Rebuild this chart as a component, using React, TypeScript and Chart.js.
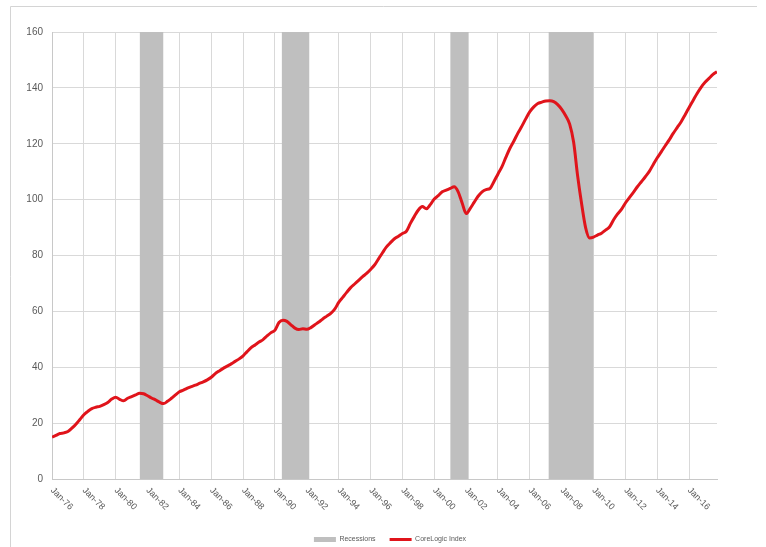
import { useEffect, useRef } from 'react';
import { Chart, registerables } from 'chart.js';

Chart.register(...registerables);

// Tick labels along the time axis (every two years)
const tickLabels = [
  'Jan-76', 'Jan-78', 'Jan-80', 'Jan-82', 'Jan-84', 'Jan-86', 'Jan-88', 'Jan-90', 'Jan-92', 'Jan-94',
  'Jan-96', 'Jan-98', 'Jan-00', 'Jan-02', 'Jan-04', 'Jan-06', 'Jan-08', 'Jan-10', 'Jan-12', 'Jan-14', 'Jan-16',
];

// Recession bands (start / end month labels)
const recessionStarts = ['Jul-81', 'Jun-90', 'Jan-01', 'Mar-07'];
const recessionEnds = ['Jan-83', 'Mar-92', 'Mar-02', 'Jan-10'];

// CoreLogic Index, quarterly readings starting Jan-76
const indexValues = [
  15.0, 15.6, 16.3, 16.5, 17.0, 18.2, 19.6, 21.3, 23.0, 24.2,
  25.2, 25.7, 26.0, 26.6, 27.4, 28.6, 29.3, 28.5, 28.0, 28.9,
  29.5, 30.1, 30.7, 30.5, 29.8, 29.0, 28.3, 27.5, 27.0, 27.8,
  28.9, 30.1, 31.2, 31.8, 32.5, 33.1, 33.6, 34.2, 34.8, 35.5,
  36.4, 37.7, 38.7, 39.6, 40.4, 41.2, 42.1, 43.0, 44.1, 45.6,
  47.0, 48.0, 49.0, 49.9, 51.2, 52.4, 53.3, 56.0, 56.8, 56.4,
  55.2, 54.0, 53.5, 53.8, 53.6, 54.2, 55.2, 56.2, 57.3, 58.3,
  59.3, 60.8, 63.2, 65.0, 66.8, 68.5, 69.8, 71.1, 72.4, 73.6,
  75.0, 76.6, 78.8, 81.0, 83.1, 84.6, 86.0, 86.9, 87.9, 88.7,
  91.5, 94.0, 96.3, 97.5, 96.7, 98.2, 100.2, 101.4, 102.8, 103.4,
  104.0, 104.6, 102.8, 98.8, 95.0, 96.8, 99.0, 101.2, 102.8, 103.6,
  104.0, 106.5, 109.2, 111.8, 115.2, 118.4, 121.0, 123.8, 126.3, 129.0,
  131.5, 133.2, 134.4, 134.9, 135.3, 135.4, 135.1, 134.0, 132.3, 130.0,
  127.0, 120.5, 108.5, 98.5, 90.0, 86.3, 86.6, 87.3, 88.0, 89.1,
  90.2, 92.7, 94.8, 96.5, 98.8, 100.7, 102.6, 104.6, 106.4, 108.2,
  110.1, 112.6, 115.0, 117.1, 119.3, 121.4, 123.7, 125.8, 127.9, 130.4,
  133.0, 135.5, 138.0, 140.2, 142.0, 143.4, 144.8, 145.8,
];

const Y_MIN = 0;
const Y_MAX = 160;
const Y_STEP = 20;

const MONTHS = ['Jan', 'Feb', 'Mar', 'Apr', 'May', 'Jun', 'Jul', 'Aug', 'Sep', 'Oct', 'Nov', 'Dec'];
const BASE_YEAR = 1976;

// convert "Mmm-yy" into months since Jan-76
function monthIndex(label: string): number {
  const [mon, yy] = label.split('-');
  const y2 = parseInt(yy, 10);
  const year = y2 >= 50 ? 1900 + y2 : 2000 + y2;
  return (year - BASE_YEAR) * 12 + MONTHS.indexOf(mon);
}

const tickMonths = tickLabels.map(monthIndex);
const indexMonths = indexValues.map((_, i) => i * 3);

export default function App() {
  const canvasRef = useRef<HTMLCanvasElement | null>(null);

  useEffect(() => {
    document.body.style.margin = '0';
    const canvas = canvasRef.current;
    if (!canvas) return;

    const recessionData: { x: number; y: number | null }[] = [];
    recessionStarts.forEach((s, i) => {
      const a = monthIndex(s);
      const b = monthIndex(recessionEnds[i]);
      recessionData.push({ x: a, y: Y_MAX });
      recessionData.push({ x: b, y: Y_MAX });
      recessionData.push({ x: b + 0.01, y: null });
    });

    const lineData = indexValues.map((v, i) => ({ x: indexMonths[i], y: v }));

    const framePlugin = {
      id: 'frame',
      beforeDraw(chart: any) {
        const ctx = chart.ctx;
        ctx.save();
        ctx.strokeStyle = '#d4d4d4';
        ctx.lineWidth = 1;
        ctx.beginPath();
        ctx.moveTo(10.5, chart.height);
        ctx.lineTo(10.5, 6.5);
        ctx.lineTo(757, 6.5);
        ctx.stroke();
        ctx.restore();
      },
    };

    const xLabelPlugin = {
      id: 'xlabels',
      afterDraw(chart: any) {
        const xs = chart.scales.x;
        const ctx = chart.ctx;
        ctx.save();
        ctx.font = '9px "Liberation Sans", Arial, sans-serif';
        ctx.fillStyle = '#595959';
        ctx.textAlign = 'left';
        ctx.textBaseline = 'middle';
        tickMonths.forEach((m, i) => {
          const px = xs.getPixelForValue(m);
          ctx.save();
          ctx.translate(px, xs.top + 10);
          ctx.rotate(Math.PI / 4);
          ctx.fillText(tickLabels[i], 0, 0);
          ctx.restore();
        });
        ctx.restore();
      },
    };

    const chart = new Chart(canvas, {
      type: 'line',
      data: {
        datasets: [
          {
            label: 'Recessions',
            data: recessionData,
            backgroundColor: '#bfbfbf',
            borderColor: '#bfbfbf',
            borderWidth: 0,
            fill: 'origin',
            pointRadius: 0,
            pointStyle: 'rect',
            spanGaps: false,
            order: 1,
          },
          {
            label: 'CoreLogic Index',
            data: lineData,
            borderColor: '#e0141b',
            backgroundColor: '#e0141b',
            borderWidth: 3,
            pointRadius: 0,
            pointStyle: 'line',
            fill: false,
            cubicInterpolationMode: 'monotone',
            order: 0,
          },
        ],
      },
      options: {
        responsive: false,
        animation: false,
        events: [],
        layout: { padding: { left: 14, right: 0, top: 32, bottom: -6 } },
        plugins: {
          tooltip: { enabled: false },
          title: { display: false },
          legend: {
            position: 'bottom',
            labels: {
              usePointStyle: true,
              pointStyleWidth: 22,
              boxHeight: 5,
              padding: 14,
              color: '#595959',
              font: { size: 7, family: '"Liberation Sans", Arial, sans-serif' },
              sort: (a: any, b: any) => a.datasetIndex - b.datasetIndex,
            },
          },
        },
        scales: {
          x: {
            type: 'linear',
            min: 0,
            max: indexMonths[indexMonths.length - 1],
            afterBuildTicks(scale: any) {
              scale.ticks = tickMonths.map((v) => ({ value: v }));
            },
            afterFit(scale: any) {
              scale.height = 43;
            },
            ticks: { display: false },
            grid: { color: '#d9d9d9', lineWidth: 1, drawTicks: false },
            border: { color: '#c8c8c8' },
          },
          y: {
            type: 'linear',
            min: Y_MIN,
            max: Y_MAX,
            afterFit(scale: any) {
              scale.width = 38;
            },
            ticks: {
              stepSize: Y_STEP,
              padding: 9,
              color: '#595959',
              font: { size: 10, family: '"Liberation Sans", Arial, sans-serif' },
            },
            grid: { color: '#d9d9d9', lineWidth: 1, drawTicks: false },
            border: { color: '#c8c8c8' },
          },
          y2: {
            type: 'linear',
            position: 'right',
            display: true,
            afterFit(scale: any) {
              scale.width = 49;
            },
            ticks: { display: false },
            grid: { display: false, drawTicks: false },
            border: { display: false },
          },
        },
      },
      plugins: [framePlugin, xLabelPlugin],
    } as any);

    return () => {
      chart.destroy();
    };
  }, []);

  return (
    <div style={{ width: 766, height: 547 }}>
      <canvas ref={canvasRef} width={766} height={547} style={{ display: 'block' }} />
    </div>
  );
}
